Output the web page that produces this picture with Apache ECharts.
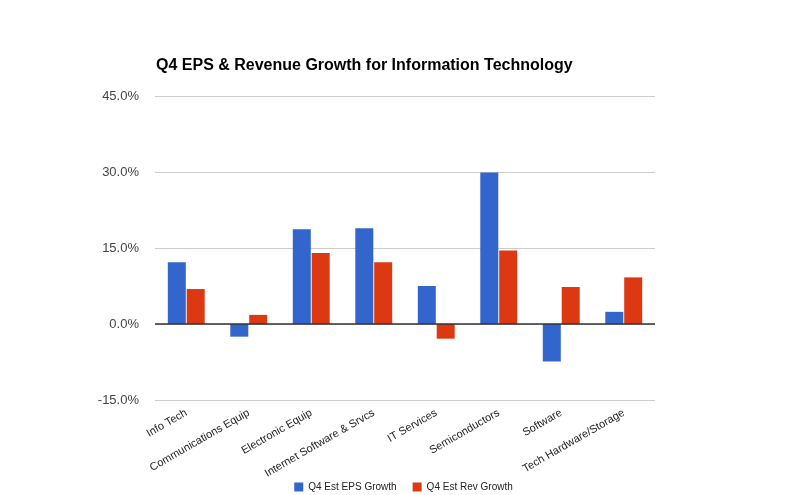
<!DOCTYPE html>
<html><head><meta charset="utf-8">
<script src="https://cdn.jsdelivr.net/npm/echarts@6/dist/echarts.min.js"></script>
<style>html,body{margin:0;padding:0;background:#fff}#c{width:807px;height:495px}</style>
</head><body><div id="c"></div>
<script>
const categories = ["Info Tech","Communications Equip","Electronic Equip","Internet Software & Srvcs","IT Services","Semiconductors","Software","Tech Hardware/Storage"];
const epsGrowth = [12.2, -2.5, 18.7, 18.9, 7.5, 29.9, -7.4, 2.4];
const revGrowth = [6.9, 1.8, 14.0, 12.2, -2.9, 14.5, 7.3, 9.2];
const yTicks = {min:-15, max:45, interval:15};
const chart = echarts.init(document.getElementById('c'));
chart.setOption({
  animation:false,
  textStyle:{fontFamily:'Liberation Sans, Arial, sans-serif'},
  title:{text:'Q4 EPS & Revenue Growth for Information Technology',left:151,top:53,
    textStyle:{fontSize:16,fontWeight:'bold',color:'#000',fontFamily:'Liberation Sans, Arial, sans-serif'}},
  grid:{left:155,right:152,top:96,bottom:95},
  legend:{top:477,left:'center',itemWidth:9,itemHeight:9,itemGap:16,icon:'rect',
    textStyle:{fontSize:10,color:'#222'},
    data:['Q4 Est EPS Growth','Q4 Est Rev Growth']},
  xAxis:{type:'category',data:categories,
    axisLine:{show:false},axisTick:{show:false},
    axisLabel:{interval:0,rotate:30,fontSize:11,color:'#222',margin:12,
      align:'right',verticalAlign:'middle'}},
  yAxis:{type:'value',min:yTicks.min,max:yTicks.max,interval:yTicks.interval,
    axisLine:{show:false},axisTick:{show:false},
    axisLabel:{formatter:v=>v.toFixed(1)+'%',fontSize:13,color:'#444',margin:16},
    splitLine:{lineStyle:{color:'#cccccc',width:1}}},
  series:[
    {name:'Q4 Est EPS Growth',type:'bar',data:epsGrowth,barWidth:18,barGap:'5%',
      itemStyle:{color:'#3366cc'},
      markLine:{silent:true,symbol:'none',label:{show:false},
        lineStyle:{color:'#333',width:1.5,type:'solid'},data:[{yAxis:0}]}},
    {name:'Q4 Est Rev Growth',type:'bar',data:revGrowth,barWidth:18,barGap:'5%',
      itemStyle:{color:'#dc3912'}}
  ]
});
</script></body></html>
